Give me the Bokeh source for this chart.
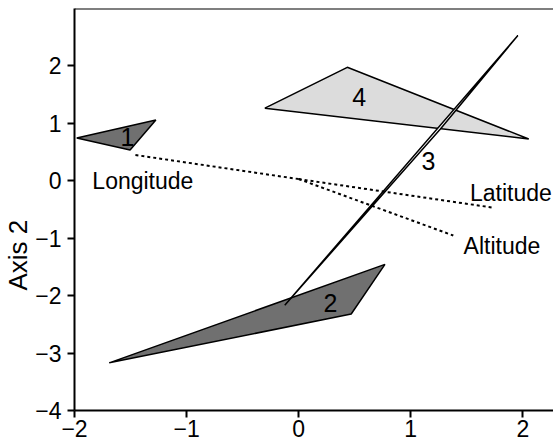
from bokeh.plotting import figure
from bokeh.models import FixedTicker, Span, Range1d, Title
from bokeh.core.properties import value
from bokeh.embed import file_html
from bokeh.resources import INLINE

# ---- data ----
group_names = ["1", "2", "3", "4"]
g1_x = [-1.98, -1.274, -1.504]
g1_y = [0.745, 1.057, 0.537]
g2_x = [-1.69, 0.77, 0.469]
g2_y = [-3.17, -1.456, -2.32]
g3_x = [-0.124, 1.956, 1.265]
g3_y = [-2.166, 2.53, 0.90]
g4_x = [-0.301, 0.434, 2.053]
g4_y = [1.265, 1.976, 0.728]

group_label_x = [-1.527, 0.283, 1.159, 0.54]
group_label_y = [0.763, -2.13, 0.347, 1.456]

var_names = ["Longitude", "Latitude", "Altitude"]
var_origin_x = [0.0, 0.0, 0.0]
var_origin_y = [0.03, 0.03, 0.03]
var_end_x = [-1.46, 1.735, 1.38]
var_end_y = [0.45, -0.468, -0.953]
var_label_x = [-1.39, 1.894, 1.814]
var_label_y = [0.0, -0.208, -1.127]

x_ticks = [-2, -1, 0, 1, 2]
y_ticks = [-4, -3, -2, -1, 0, 1, 2]
x_tick_labels = ["\u22122", "\u22121", "0", "1", "2"]
y_tick_labels = ["\u22124", "\u22123", "\u22122", "\u22121", "0", "1", "2"]
y_axis_title = "Axis 2"

FONT = "Liberation Sans"
FS = "23px"
FS_NUM = "25px"
DARK = "#707070"
LIGHT = "#dcdcdc"

p = figure(width=553, height=445, x_range=Range1d(-2, 2.274), y_range=Range1d(-4, 3.0),
           output_backend="svg", toolbar_location=None,
           min_border_left=70, min_border_right=0, min_border_top=8, min_border_bottom=35)
p.grid.visible = False
p.outline_line_color = None
p.background_fill_color = "white"
p.border_fill_color = "white"

for ax, ticks, labels in ((p.xaxis, x_ticks, x_tick_labels), (p.yaxis, y_ticks, y_tick_labels)):
    ax.ticker = FixedTicker(ticks=ticks)
    ax.major_label_overrides = {t: l for t, l in zip(ticks, labels)}
    ax.minor_tick_line_color = None
    ax.major_tick_in = 0
    ax.major_tick_out = 7
    ax.major_tick_line_width = 2
    ax.axis_line_width = 2
    ax.axis_line_color = "black"
    ax.major_tick_line_color = "black"
    ax.major_label_text_font = FONT
    ax.major_label_text_font_size = FS
    ax.major_label_text_color = "black"
    ax.major_label_standoff = 2
p.yaxis.major_label_standoff = 6

p.add_layout(Title(text=y_axis_title, align="left", offset=120, standoff=0,
                   text_font=FONT, text_font_size="26px", text_font_style="normal",
                   text_color="black"), "left")

p.add_layout(Span(location=3.0, dimension="width", line_color="black", line_width=2))

# hulls
p.patch(g4_x, g4_y, fill_color=LIGHT, line_color="black", line_width=1.5)
p.patch(g1_x, g1_y, fill_color=DARK, line_color="black", line_width=1.5)
p.patch(g2_x, g2_y, fill_color=DARK, line_color="black", line_width=1.5)
p.patch(g3_x, g3_y, fill_color="white", line_color="black", line_width=1.5)

# variable vectors
p.segment(x0=var_origin_x, y0=var_origin_y, x1=var_end_x, y1=var_end_y,
          line_color="black", line_width=2, line_dash="3 3")

p.text(x=group_label_x, y=group_label_y, text=group_names, text_font=value(FONT),
       text_font_size=value(FS_NUM), text_align="center", text_baseline="middle", text_color="black")
p.text(x=var_label_x, y=var_label_y, text=var_names, text_font=value(FONT),
       text_font_size=value(FS), text_align="center", text_baseline="middle", text_color="black")

open("out.html", "w").write(file_html(p, INLINE))
